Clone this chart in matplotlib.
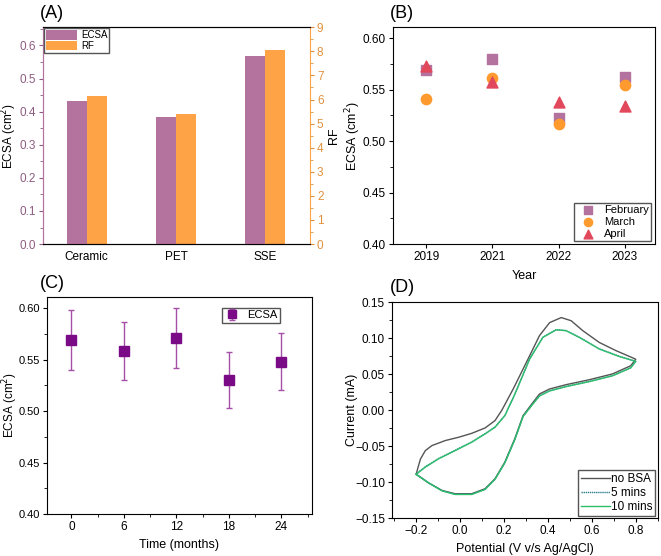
import matplotlib
matplotlib.use('Agg')
from matplotlib import pyplot as plt
from matplotlib.ticker import MultipleLocator

plt.rcParams.update({'font.family': ['Liberation Sans', 'DejaVu Sans'], 'font.size': 9,
                     'xtick.labelsize': 8.5, 'ytick.labelsize': 8.5,
                     'xtick.direction': 'out', 'ytick.direction': 'out',
                     'xtick.major.size': 3, 'ytick.major.size': 3,
                     'xtick.minor.size': 2, 'ytick.minor.size': 2,
                     'axes.linewidth': 0.8})

# (A) ECSA and RF by substrate
substrates = ['Ceramic', 'PET', 'SSE']
ecsa_sub = [0.433, 0.383, 0.568]
rf_sub = [6.15, 5.40, 8.05]

# (B) ECSA per year and month
years = ['2019', '2021', '2022', '2023']
feb = [0.569, 0.580, 0.522, 0.562]
mar = [0.541, 0.561, 0.517, 0.554]
apr = [0.573, 0.557, 0.538, 0.534]

# (C) stability over time
months = [0, 6, 12, 18, 24]
ecsa_time = [0.569, 0.558, 0.571, 0.530, 0.548]
ecsa_err = [0.029, 0.028, 0.029, 0.027, 0.028]

# (D) cyclic voltammograms (forward sweep, then reverse sweep)
pot_nobsa = [-0.2, -0.191, -0.18, -0.158, -0.128, -0.067, -0.007, 0.053, 0.114, 0.159, 0.19,
             0.242, 0.302, 0.362, 0.408, 0.461, 0.506, 0.558, 0.634, 0.71, 0.792, 0.8,
             0.777, 0.694, 0.589, 0.483, 0.408, 0.362, 0.332, 0.287, 0.249, 0.204, 0.159,
             0.114, 0.053, -0.022, -0.082, -0.143, -0.2]
cur_nobsa = [-0.089, -0.079, -0.0675, -0.056, -0.049, -0.042, -0.0375, -0.032, -0.0245, -0.0143, 0.0,
             0.0297, 0.0667, 0.104, 0.122, 0.129, 0.1246, 0.111, 0.0944, 0.083, 0.0722, 0.071,
             0.062, 0.0506, 0.0426, 0.0357, 0.0297, 0.0228, 0.011, -0.0074, -0.0397, -0.072, -0.0953,
             -0.109, -0.116, -0.116, -0.1115, -0.101, -0.089]
pot_bsa = [-0.2, -0.158, -0.098, -0.022, 0.053, 0.114, 0.159, 0.204, 0.249, 0.317, 0.377,
           0.438, 0.483, 0.543, 0.634, 0.724, 0.8,
           0.777, 0.694, 0.589, 0.483, 0.408, 0.362, 0.332, 0.287, 0.249, 0.204, 0.159,
           0.114, 0.053, -0.022, -0.082, -0.143, -0.2]
cur_5 = [-0.0885, -0.0785, -0.067, -0.0555, -0.044, -0.0325, -0.0233, -0.0072, 0.0222, 0.0716, 0.1016,
         0.1122, 0.1109, 0.1016, 0.0855, 0.0752, 0.0682,
         0.0592, 0.0482, 0.0402, 0.0332, 0.0272, 0.0202, 0.0092, -0.0083, -0.0408, -0.0728, -0.0958,
         -0.1098, -0.1168, -0.1168, -0.1118, -0.1008, -0.0885]
cur_10 = [-0.089, -0.079, -0.0675, -0.056, -0.0444, -0.0328, -0.0236, -0.0074, 0.022, 0.0714, 0.1014,
          0.112, 0.1107, 0.1014, 0.0853, 0.075, 0.068,
          0.059, 0.048, 0.040, 0.033, 0.027, 0.020, 0.009, -0.0085, -0.041, -0.073, -0.096,
          -0.110, -0.117, -0.117, -0.112, -0.101, -0.089]

mauve = '#B3739E'
orange = '#FFA347'

fig = plt.figure(figsize=(6.61, 5.56), dpi=100)

# ---- (A)
axA = fig.add_axes([0.065, 0.561, 0.404, 0.390])
x = range(len(substrates))
w = 0.225
axA.bar([i - w / 2 for i in x], ecsa_sub, width=w, color=mauve, label='ECSA')
axA.set_xlim(-0.49, 2.5)
axA.set_ylim(0, 0.655)
axA.set_xticks(list(x))
axA.set_xticklabels(substrates)
axA.tick_params(axis='x', length=0, pad=5)
axA.yaxis.set_major_locator(MultipleLocator(0.1))
axA.yaxis.set_minor_locator(MultipleLocator(0.05))
axA.set_ylabel('ECSA (cm$^2$)', fontsize=8.5)
axA.yaxis.set_label_coords(-0.088, 0.5)
axA.tick_params(axis='y', which='both', colors='#8E5C80', pad=2)
axA.yaxis.label.set_color('black')
axA.spines['left'].set_color(mauve)
axA.spines['right'].set_visible(False)
axR = axA.twinx()
axR.bar([i + w / 2 for i in x], rf_sub, width=w, color=orange, label='RF')
axR.set_ylim(0, 9.0)
axR.yaxis.set_major_locator(MultipleLocator(1))
axR.yaxis.set_minor_locator(MultipleLocator(0.5))
axR.tick_params(axis='y', which='both', colors='#E0913E', pad=2)
axR.spines['right'].set_color(orange)
axR.spines['left'].set_color(mauve)
axR.set_ylabel('RF', color='black')
axR.yaxis.set_label_coords(1.066, 0.5)
h1, l1 = axA.get_legend_handles_labels()
h2, l2 = axR.get_legend_handles_labels()
axA.legend(h1 + h2, l1 + l2, loc='upper left', fontsize=7, fancybox=False, edgecolor='#555555',
           borderaxespad=0.1, handlelength=3.2, handleheight=1.1, labelspacing=0.1,
           borderpad=0.2, handletextpad=0.4, framealpha=1)
axA.set_zorder(axR.get_zorder() + 1)
axA.patch.set_visible(False)
fig.text(0.06, 0.975, '(A)', fontsize=13, va='center')

# ---- (B)
axB = fig.add_axes([0.5946, 0.561, 0.396, 0.390])
xb = range(len(years))
axB.scatter(xb, feb, marker='s', s=48, color=mauve, label='February', zorder=3)
axB.scatter(xb, mar, marker='o', s=55, color='#FF9A2E', label='March', zorder=3)
axB.scatter(xb, apr, marker='^', s=62, color='#E2485C', label='April', zorder=3)
axB.set_xlim(-0.5, 3.45)
axB.set_ylim(0.40, 0.6105)
axB.set_xticks(list(xb))
axB.set_xticklabels(years)
axB.yaxis.set_major_locator(MultipleLocator(0.05))
axB.yaxis.set_minor_locator(MultipleLocator(0.025))
axB.tick_params(which='both', pad=2)
axB.set_ylabel('ECSA (cm$^2$)')
axB.yaxis.set_label_coords(-0.115, 0.5)
axB.set_xlabel('Year', labelpad=5)
axB.legend(loc='lower right', fontsize=8, markerscale=0.8, fancybox=False, edgecolor='#555555',
           borderaxespad=0.3, labelspacing=0.15, borderpad=0.2, handletextpad=0.5, framealpha=1)
fig.text(0.59, 0.975, '(B)', fontsize=13, va='center')

# ---- (C)
axC = fig.add_axes([0.071, 0.0755, 0.401, 0.390])
axC.errorbar(months, ecsa_time, yerr=ecsa_err, fmt='s', color='#7A0A85', ms=7,
             ecolor='#A64FA6', elinewidth=1, capsize=2, capthick=1, label='ECSA')
axC.set_xlim(-2.8, 27.5)
axC.set_ylim(0.40, 0.6105)
axC.set_xticks(months)
axC.xaxis.set_minor_locator(MultipleLocator(3))
axC.yaxis.set_major_locator(MultipleLocator(0.05))
axC.yaxis.set_minor_locator(MultipleLocator(0.025))
axC.tick_params(which='both', pad=2)
axC.tick_params(axis='y', labelsize=8)
axC.set_ylabel('ECSA (cm$^2$)', fontsize=8.5)
axC.yaxis.set_label_coords(-0.1, 0.5)
axC.set_xlabel('Time (months)')
axC.legend(loc='upper right', bbox_to_anchor=(0.9, 0.975), fontsize=8, markerscale=0.85,
           fancybox=False, edgecolor='#555555', borderpad=0.2, handlelength=1.5,
           handletextpad=0.6, framealpha=1)
fig.text(0.06, 0.49, '(C)', fontsize=13, va='center')

# ---- (D)
axD = fig.add_axes([0.593, 0.068, 0.402, 0.388])
axD.plot(pot_nobsa, cur_nobsa, color='#555555', lw=1, label='no BSA')
axD.plot(pot_bsa, cur_5, color='#2F7F8F', lw=1, ls=(0, (1, 0.5)), label='5 mins')
axD.plot(pot_bsa, cur_10, color='#2DBE6C', lw=1, label='10 mins')
axD.set_xlim(-0.31, 0.9)
axD.set_ylim(-0.15, 0.15)
axD.xaxis.set_major_locator(MultipleLocator(0.2))
axD.xaxis.set_minor_locator(MultipleLocator(0.1))
axD.yaxis.set_major_locator(MultipleLocator(0.05))
axD.yaxis.set_minor_locator(MultipleLocator(0.025))
axD.tick_params(which='both', pad=2)
axD.set_ylabel('Current (mA)')
axD.yaxis.set_label_coords(-0.128, 0.5)
axD.set_xlabel('Potential (V v/s Ag/AgCl)')
axD.legend(loc='lower right', fontsize=8.5, fancybox=False, edgecolor='#555555',
           borderaxespad=0.2, labelspacing=0.2, borderpad=0.2, handlelength=2.5,
           handletextpad=0.1, framealpha=1)
fig.text(0.59, 0.483, '(D)', fontsize=13, va='center')

fig.savefig('out.png', dpi=100)
